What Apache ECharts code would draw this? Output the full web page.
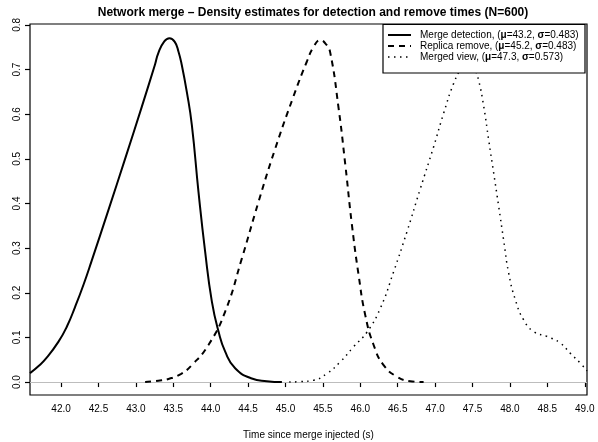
<!DOCTYPE html>
<html>
<head>
<meta charset="utf-8">
<script src="https://cdn.jsdelivr.net/npm/echarts@6/dist/echarts.min.js"></script>
<style>
  html, body { margin: 0; padding: 0; background: #fff; }
  #chart { width: 598px; height: 442px; }
</style>
</head>
<body>
<div id="chart"></div>
<script>
// 横轴/纵轴刻度
var xTicks = [42.0, 42.5, 43.0, 43.5, 44.0, 44.5, 45.0, 45.5, 46.0, 46.5, 47.0, 47.5, 48.0, 48.5, 49.0];
var yTicks = [0.0, 0.1, 0.2, 0.3, 0.4, 0.5, 0.6, 0.7, 0.8];

// 图例文字
var legendNames = [
    'Merge detection, ({b|\u03bc}=43.2, {b|\u03c3}=0.483)',
    'Replica remove, ({b|\u03bc}=45.2, {b|\u03c3}=0.483)',
    'Merged view, ({b|\u03bc}=47.3, {b|\u03c3}=0.573)'
];

// 密度曲线 [时间, 密度]
var detection = [
    [41.585, 0.020], [41.70, 0.036], [41.80, 0.053], [41.964, 0.090], [42.08, 0.125],
    [42.187, 0.168], [42.30, 0.218], [42.41, 0.272], [42.633, 0.385], [42.856, 0.500],
    [43.08, 0.617], [43.257, 0.712], [43.30, 0.737], [43.38, 0.763], [43.449, 0.770],
    [43.52, 0.762], [43.57, 0.740], [43.614, 0.710], [43.681, 0.650], [43.748, 0.576],
    [43.837, 0.426], [43.926, 0.292], [44.016, 0.180], [44.105, 0.113], [44.194, 0.068],
    [44.327, 0.031], [44.55, 0.008], [44.75, 0.002], [44.952, 0.000]
];
var replica = [
    [43.124, 0.000], [43.30, 0.003], [43.436, 0.007], [43.60, 0.018], [43.748, 0.038],
    [43.97, 0.083], [44.194, 0.158], [44.417, 0.277], [44.64, 0.404], [44.857, 0.520],
    [45.107, 0.640], [45.286, 0.718], [45.38, 0.752], [45.465, 0.766], [45.54, 0.757],
    [45.598, 0.738], [45.71, 0.613], [45.80, 0.486], [45.888, 0.352], [45.977, 0.240],
    [46.066, 0.150], [46.178, 0.083], [46.311, 0.038], [46.49, 0.012], [46.668, 0.002],
    [46.846, 0.000]
];
var merged = [
    [45.05, 0.000], [45.20, 0.001], [45.375, 0.004], [45.554, 0.019], [45.73, 0.045],
    [45.91, 0.079], [46.09, 0.112], [46.267, 0.165], [46.445, 0.247], [46.624, 0.337],
    [46.80, 0.432], [46.98, 0.527], [47.114, 0.602], [47.248, 0.669], [47.36, 0.705],
    [47.45, 0.718], [47.53, 0.700], [47.58, 0.677], [47.65, 0.617], [47.716, 0.542],
    [47.783, 0.468], [47.85, 0.393], [47.916, 0.318], [47.983, 0.244], [48.073, 0.184],
    [48.184, 0.139], [48.318, 0.113], [48.497, 0.102], [48.675, 0.087], [48.809, 0.064],
    [48.943, 0.042], [49.03, 0.025]
];

var FONT = 'Liberation Sans, Arial, Helvetica, sans-serif';
var lineTypes = ['solid', [6, 5], [1.5, 4.5]];
var lineWidths = [2, 2, 1.5];

document.addEventListener("DOMContentLoaded", function () {
    var chart = echarts.init(document.getElementById('chart'), null, { renderer: 'canvas' });

    // 图例：白底方框 + 线样 + 文字
    var legendItems = [{
        type: 'rect',
        shape: { x: 383, y: 24.5, width: 202, height: 48.5 },
        style: { fill: '#fff', stroke: '#000', lineWidth: 1.2 },
        z: 100
    }];
    legendNames.forEach(function (name, i) {
        var y = 35 + i * 11;
        legendItems.push({
            type: 'line',
            shape: { x1: 388, y1: y, x2: 411, y2: y },
            style: { stroke: '#000', lineWidth: lineWidths[i], lineDash: lineTypes[i] === 'solid' ? null : lineTypes[i] },
            z: 101
        });
        legendItems.push({
            type: 'text',
            x: 420, y: y,
            style: {
                text: name,
                fill: '#000',
                font: '10px ' + FONT,
                verticalAlign: 'middle',
                rich: { b: { fontWeight: 'bold', fontSize: 10, fontFamily: FONT } }
            },
            z: 101
        });
    });

    function curve(data, i) {
        return {
            type: 'line',
            data: data,
            smooth: 0.5,
            showSymbol: false,
            symbol: 'none',
            silent: true,
            lineStyle: { color: '#000', width: lineWidths[i], type: lineTypes[i], cap: 'butt' },
            z: 3
        };
    }

    var series = [curve(detection, 0), curve(replica, 1), curve(merged, 2)];
    // 0 处的灰色水平线
    series[0].markLine = {
        silent: true,
        symbol: 'none',
        label: { show: false },
        lineStyle: { color: '#bdbdbd', width: 1, type: 'solid' },
        data: [{ yAxis: 0 }],
        z: 1
    };

    var option = {
        animation: false,
        textStyle: { fontFamily: FONT, color: '#000' },
        title: {
            text: 'Network merge \u2013 Density estimates for detection and remove times (N=600)',
            left: 308,
            textAlign: 'center',
            top: 2,
            textStyle: { fontSize: 12, fontWeight: 'bold', color: '#000', fontFamily: FONT }
        },
        grid: {
            left: 30, right: 11, top: 24, bottom: 47,
            outerBoundsMode: 'none',
            containLabel: false,
            show: true, borderColor: '#000', borderWidth: 1.2, backgroundColor: 'transparent'
        },
        xAxis: {
            type: 'value',
            min: 41.585,
            max: 49.03,
            name: 'Time since merge injected (s)',
            nameLocation: 'middle',
            nameGap: 35,
            nameTextStyle: { fontSize: 10, color: '#000', fontFamily: FONT },
            axisLine: { show: false },
            axisTick: { show: true, length: 5, customValues: xTicks, lineStyle: { color: '#000', width: 1.2 } },
            axisLabel: {
                customValues: xTicks,
                margin: 9,
                fontSize: 10,
                color: '#000',
                formatter: function (v) { return v.toFixed(1); }
            },
            splitLine: { show: false }
        },
        yAxis: {
            type: 'value',
            min: -0.029,
            max: 0.802,
            axisLine: { show: false },
            axisTick: { show: true, length: 5, customValues: yTicks, lineStyle: { color: '#000', width: 1.2 } },
            axisLabel: {
                customValues: yTicks,
                rotate: 90,
                margin: 8,
                fontSize: 10,
                color: '#000',
                formatter: function (v) { return v.toFixed(1); }
            },
            splitLine: { show: false }
        },
        graphic: legendItems,
        series: series
    };

    chart.setOption(option);
});
</script>
</body>
</html>
